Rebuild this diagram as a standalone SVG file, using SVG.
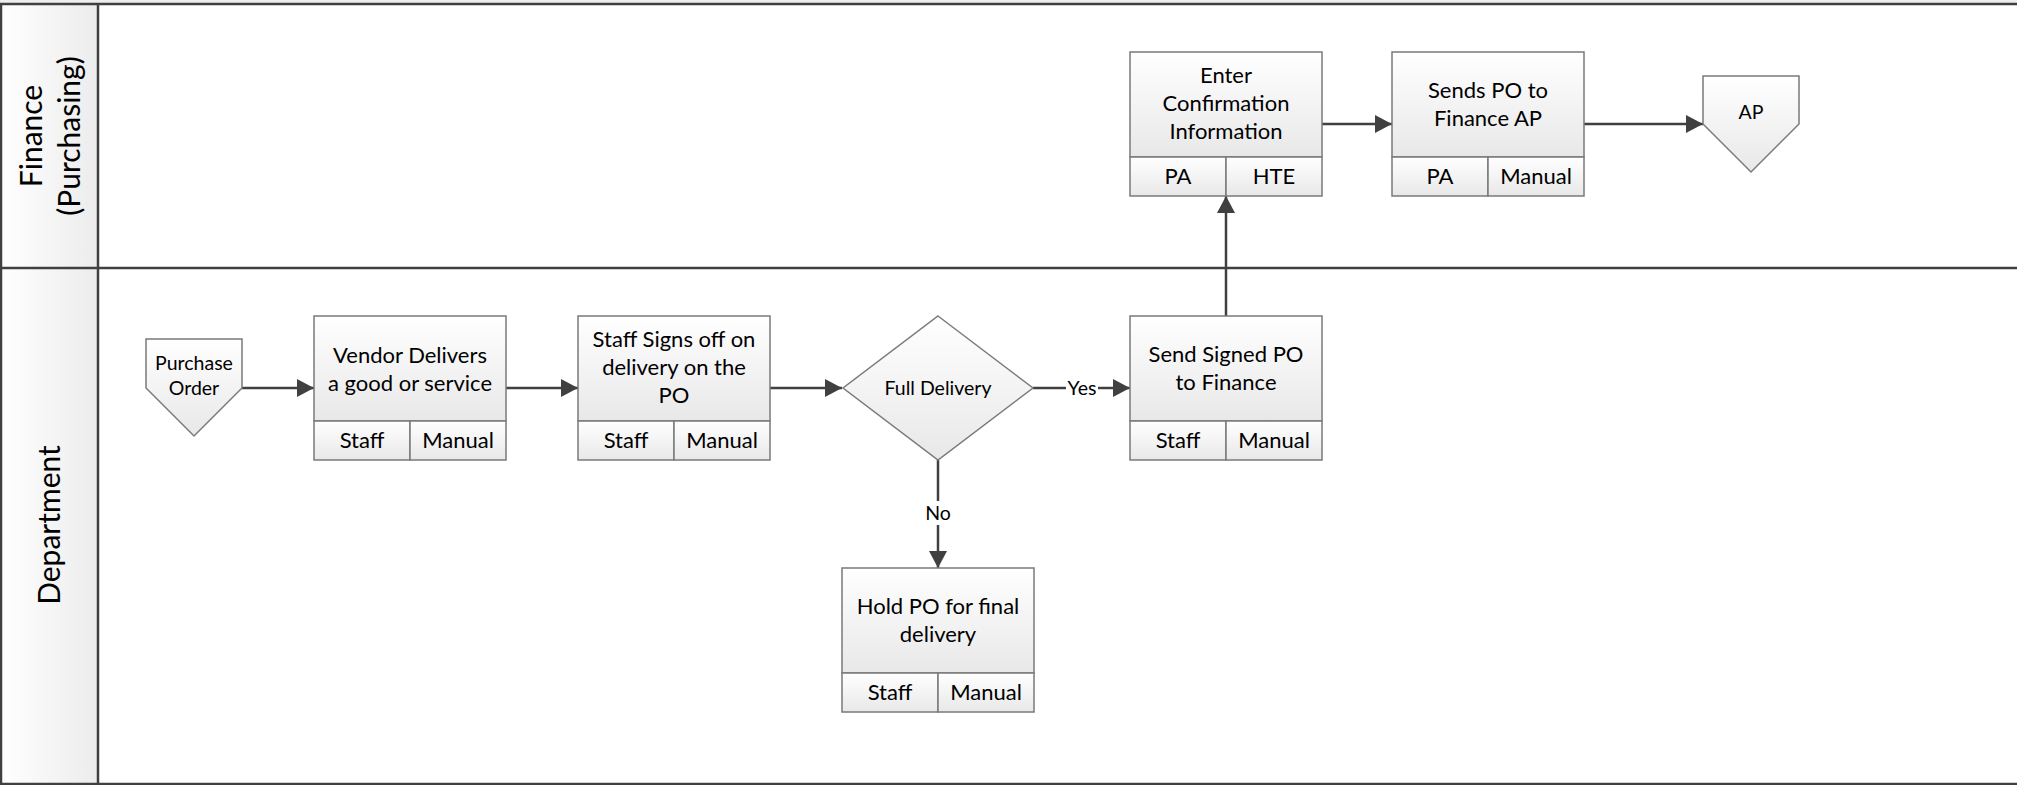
<svg xmlns="http://www.w3.org/2000/svg" width="2017" height="785" viewBox="0 0 2017 785">
<defs>
<linearGradient id="hdr" x1="0" y1="0" x2="1" y2="0"><stop offset="0" stop-color="#ffffff"/><stop offset="1" stop-color="#ececec"/></linearGradient>
<linearGradient id="nf" x1="0" y1="0" x2="0" y2="1"><stop offset="0" stop-color="#ffffff"/><stop offset="1" stop-color="#e8e8e8"/></linearGradient>
<marker id="ah" markerUnits="userSpaceOnUse" markerWidth="18" markerHeight="18" viewBox="0 0 18 18" refX="17" refY="9" orient="auto"><path d="M0,0 L17,9 L0,18 Z" fill="#404040"/></marker>
<style>
.lane{fill:none;stroke:#404040;stroke-width:2.5}
.box{fill:url(#nf);stroke:#7a7a7a;stroke-width:1.5}
.t{font-family:Lato,"Liberation Sans",sans-serif;font-size:22px;fill:#000;text-anchor:middle}
.ts{font-family:Lato,"Liberation Sans",sans-serif;font-size:19.5px;fill:#000;text-anchor:middle}
.th{font-family:Lato,"Liberation Sans",sans-serif;font-size:30px;fill:#000;text-anchor:middle}
.c{fill:none;stroke:#404040;stroke-width:2.5}
.lbl{fill:#fff}
</style>
</defs>
<rect x="0" y="0" width="2017" height="785" fill="#fff"/>
<g id="pool">
<rect x="0" y="0" width="2017" height="4" fill="#eeeeee"/>
<rect x="0" y="4" width="98" height="780" fill="url(#hdr)"/>
<line class="lane" x1="0" y1="4" x2="2017" y2="4"/>
<line class="lane" x1="0" y1="268" x2="2017" y2="268"/>
<line class="lane" x1="0" y1="784" x2="2017" y2="784"/>
<line class="lane" x1="1" y1="4" x2="1" y2="784"/>
<line class="lane" x1="98" y1="4" x2="98" y2="784"/>
</g>
<g id="lane-finance"><text class="th" transform="translate(41.5,136) rotate(-90)">Finance</text><text class="th" transform="translate(79.5,136) rotate(-90)">(Purchasing)</text></g>
<g id="lane-department"><text class="th" transform="translate(59.5,525) rotate(-90)">Department</text></g>
<g id="connectors">
<line class="c" x1="242" y1="388" x2="314" y2="388" marker-end="url(#ah)"/>
<line class="c" x1="506" y1="388" x2="578" y2="388" marker-end="url(#ah)"/>
<line class="c" x1="770" y1="388" x2="842" y2="388" marker-end="url(#ah)"/>
<line class="c" x1="1033" y1="388" x2="1130" y2="388" marker-end="url(#ah)"/>
<line class="c" x1="938" y1="460" x2="938" y2="568" marker-end="url(#ah)"/>
<line class="c" x1="1226" y1="316" x2="1226" y2="196" marker-end="url(#ah)"/>
<line class="c" x1="1322" y1="124" x2="1392" y2="124" marker-end="url(#ah)"/>
<line class="c" x1="1584" y1="124" x2="1703" y2="124" marker-end="url(#ah)"/>
<rect class="lbl" x="1066" y="378" width="32" height="20"/>
<text class="ts" x="1082" y="395">Yes</text>
<rect class="lbl" x="923" y="501" width="30" height="24"/>
<text class="ts" x="938" y="520">No</text>
</g>
<g id="purchase-order">
<path class="box" d="M146,339 H242 V388 L194,436 L146,388 Z"/>
<text class="ts" x="194" y="370">Purchase</text><text class="ts" x="194" y="395">Order</text>
</g>
<g id="vendor-delivers">
<rect class="box" x="314" y="316" width="192" height="105"/><rect class="box" x="314" y="421" width="96" height="39"/><rect class="box" x="410" y="421" width="96" height="39"/>
<text class="t" x="410" y="363">Vendor Delivers</text><text class="t" x="410" y="391">a good or service</text>
<text class="t" x="362" y="448">Staff</text><text class="t" x="458" y="448">Manual</text>
</g>
<g id="staff-signs">
<rect class="box" x="578" y="316" width="192" height="105"/><rect class="box" x="578" y="421" width="96" height="39"/><rect class="box" x="674" y="421" width="96" height="39"/>
<text class="t" x="674" y="347">Staff Signs off on</text><text class="t" x="674" y="375">delivery on the</text><text class="t" x="674" y="403">PO</text>
<text class="t" x="626" y="448">Staff</text><text class="t" x="722" y="448">Manual</text>
</g>
<g id="full-delivery">
<path class="box" d="M938,316 L1033,388 L938,460 L843,388 Z"/>
<text class="ts" x="938" y="395">Full Delivery</text>
</g>
<g id="send-signed">
<rect class="box" x="1130" y="316" width="192" height="105"/><rect class="box" x="1130" y="421" width="96" height="39"/><rect class="box" x="1226" y="421" width="96" height="39"/>
<text class="t" x="1226" y="362">Send Signed PO</text><text class="t" x="1226" y="390">to Finance</text>
<text class="t" x="1178" y="448">Staff</text><text class="t" x="1274" y="448">Manual</text>
</g>
<g id="hold-po">
<rect class="box" x="842" y="568" width="192" height="105"/><rect class="box" x="842" y="673" width="96" height="39"/><rect class="box" x="938" y="673" width="96" height="39"/>
<text class="t" x="938" y="614">Hold PO for final</text><text class="t" x="938" y="642">delivery</text>
<text class="t" x="890" y="700">Staff</text><text class="t" x="986" y="700">Manual</text>
</g>
<g id="enter-confirmation">
<rect class="box" x="1130" y="52" width="192" height="105"/><rect class="box" x="1130" y="157" width="96" height="39"/><rect class="box" x="1226" y="157" width="96" height="39"/>
<text class="t" x="1226" y="83">Enter</text><text class="t" x="1226" y="111">Confirmation</text><text class="t" x="1226" y="139">Information</text>
<text class="t" x="1178" y="184">PA</text><text class="t" x="1274" y="184">HTE</text>
</g>
<g id="sends-po">
<rect class="box" x="1392" y="52" width="192" height="105"/><rect class="box" x="1392" y="157" width="96" height="39"/><rect class="box" x="1488" y="157" width="96" height="39"/>
<text class="t" x="1488" y="98">Sends PO to</text><text class="t" x="1488" y="126">Finance AP</text>
<text class="t" x="1440" y="184">PA</text><text class="t" x="1536" y="184">Manual</text>
</g>
<g id="ap">
<path class="box" d="M1703,76 H1799 V124 L1751,172 L1703,124 Z"/>
<text class="ts" x="1751" y="119">AP</text>
</g>
</svg>
